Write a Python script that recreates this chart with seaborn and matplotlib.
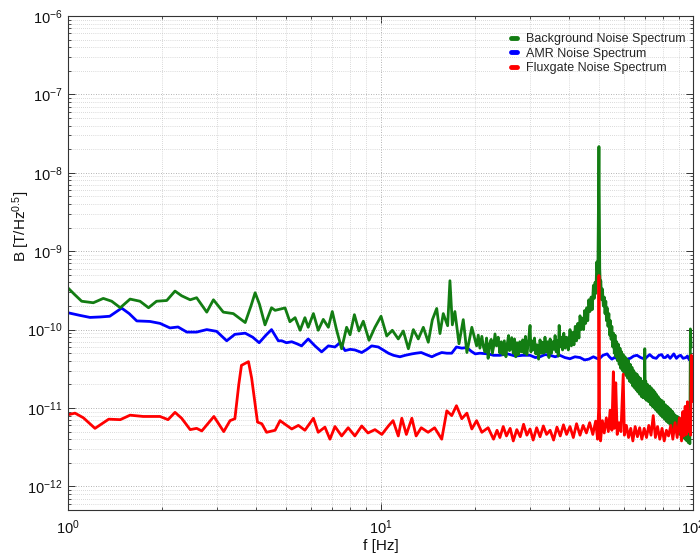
import matplotlib
matplotlib.use("Agg")
import matplotlib.pyplot as plt
import pandas as pd
import seaborn as sns
from matplotlib.lines import Line2D
from matplotlib.ticker import LogLocator, NullFormatter

# Amplitude spectral densities, (frequency in Hz, amplitude in pT/sqrt(Hz))
background_spectrum = [
    (1.00, 340), (1.05, 280), (1.106, 230), (1.205, 220), (1.297, 250), (1.38, 230),
    (1.47, 190), (1.58, 245), (1.70, 230), (1.81, 190), (1.92, 230), (2.07, 235),
    (2.20, 310), (2.31, 270), (2.46, 240), (2.58, 255), (2.78, 167), (2.92, 240),
    (3.14, 167), (3.38, 160), (3.69, 123), (3.85, 200), (3.97, 295), (4.10, 210),
    (4.27, 115), (4.48, 190), (4.60, 176), (4.71, 180), (4.95, 189), (5.13, 126),
    (5.33, 142), (5.53, 98), (5.73, 142), (5.87, 107), (6.10, 160), (6.32, 98),
    (6.56, 135), (6.81, 107), (7.01, 170), (7.24, 98), (7.51, 57), (7.79, 107),
    (7.99, 86), (8.25, 155), (8.53, 96), (8.81, 128), (9.19, 73), (9.60, 107),
    (10.04, 148), (10.47, 83), (10.91, 98), (11.40, 76), (11.83, 96), (12.28, 57),
    (12.74, 100), (13.21, 76), (13.71, 107), (14.22, 69), (14.65, 133), (15.13, 186),
    (15.5, 89), (15.88, 160), (16.4, 112), (16.68, 420), (16.98, 115), (17.3, 170),
    (17.83, 66), (18.4, 134), (18.9, 51), (19.6, 107), (20.3, 62), (20.55, 85),
    (20.8, 58), (21.1, 82), (21.35, 60), (21.6, 52), (21.85, 78), (22.1, 43),
    (22.35, 66), (22.6, 75), (22.8, 50), (23.0, 60), (23.25, 88), (23.5, 62),
    (23.8, 80), (24.1, 50), (24.35, 70), (24.6, 48), (24.9, 72), (25.2, 45),
    (25.45, 66), (25.7, 84), (25.85, 54), (26.0, 55), (26.3, 79), (26.6, 50),
    (26.85, 76), (27.1, 45), (27.35, 68), (27.6, 48), (27.9, 70), (28.2, 52),
    (28.5, 74), (28.8, 50), (29.1, 82), (29.4, 48), (29.75, 70), (30.1, 113),
    (30.3, 52), (30.5, 72), (30.8, 55), (31.1, 78), (31.4, 49), (31.7, 64),
    (32.05, 42), (32.4, 74), (32.7, 50), (33.0, 69), (33.3, 50), (33.6, 80),
    (33.95, 52), (34.3, 70), (34.6, 44), (34.9, 76), (35.25, 50), (35.6, 70),
    (35.9, 56), (36.2, 84), (36.5, 52), (36.8, 72), (37.05, 46), (37.3, 113),
    (37.6, 60), (37.9, 80), (38.25, 55), (38.6, 90), (39.0, 58), (39.4, 80),
    (39.9, 55), (40.4, 100), (40.8, 62), (41.2, 92), (41.6, 64), (42.0, 110),
    (42.4, 72), (42.8, 120), (43.15, 78), (43.5, 150), (43.9, 100), (44.3, 140),
    (44.65, 100), (45.0, 175), (45.35, 120), (45.7, 190), (46.05, 130), (46.4, 240),
    (46.8, 170), (47.2, 260), (47.6, 180), (48.0, 366), (48.3, 250), (48.6, 400),
    (48.9, 290), (49.2, 730), (49.6, 450), (50.0, 21600), (50.3, 600), (50.5, 380),
    (50.7, 420), (51.0, 240), (51.3, 330), (51.65, 200), (52.0, 260), (52.3, 160),
    (52.6, 230), (52.85, 130), (53.1, 190), (53.45, 110), (53.8, 160), (54.1, 85),
    (54.4, 130), (54.7, 75), (55.0, 110), (55.35, 60), (55.7, 90), (56.0, 50),
    (56.3, 85), (56.65, 45), (57.0, 70), (57.35, 40), (57.7, 65), (58.05, 36),
    (58.4, 58), (58.75, 32), (59.1, 52), (59.45, 30), (59.8, 48), (60.2, 28),
    (60.6, 45), (61.0, 26), (61.4, 42), (61.8, 24), (62.2, 40), (62.6, 22),
    (63.0, 36), (63.4, 21), (63.8, 33), (64.2, 19), (64.6, 30), (65.0, 18),
    (65.4, 28), (65.8, 17), (66.2, 27), (66.6, 16), (67.0, 25), (67.45, 15),
    (67.9, 24), (68.35, 14), (68.8, 22), (69.15, 13.5), (69.5, 21), (69.8, 14),
    (70.1, 57), (70.35, 13), (70.6, 22), (71.05, 12.5), (71.5, 20), (72.1, 12),
    (72.7, 19), (73.15, 11), (73.6, 18), (74.1, 10.5), (74.6, 17), (75.05, 10),
    (75.5, 16), (75.9, 9.5), (76.3, 15), (76.8, 9), (77.3, 14), (77.85, 8.5),
    (78.4, 13), (78.9, 8), (79.4, 12.5), (79.95, 7.6), (80.5, 12), (81.05, 7.2),
    (81.6, 11), (82.15, 6.8), (82.7, 10.5), (83.25, 6.5), (83.8, 10), (84.35, 6.2),
    (84.9, 9.5), (85.45, 5.8), (86.0, 9), (86.4, 5.5), (86.8, 8.5), (87.4, 5.2),
    (88.0, 8), (88.6, 5), (89.2, 7.8), (89.75, 4.8), (90.3, 7.5), (90.8, 4.6),
    (91.3, 7.2), (91.9, 4.4), (92.5, 7), (93.1, 4.2), (93.7, 6.6), (94.3, 4),
    (94.9, 6.2), (95.5, 3.8), (96.1, 5.8), (96.7, 3.6), (97.3, 5.2), (97.7, 3.5),
    (98.1, 102), (98.6, 60),
]

amr_spectrum = [
    (1.00, 164), (1.09, 152), (1.176, 143), (1.27, 145), (1.36, 148), (1.485, 188),
    (1.57, 160), (1.66, 129), (1.75, 128), (1.83, 127), (1.97, 120), (2.12, 105),
    (2.25, 108), (2.40, 93), (2.58, 93), (2.78, 100), (2.99, 95), (3.22, 72),
    (3.42, 87), (3.69, 90), (3.90, 80), (4.09, 68), (4.30, 85), (4.48, 100),
    (4.71, 72), (4.83, 72), (5.00, 68), (5.20, 70), (5.40, 66), (5.59, 62),
    (5.87, 76), (6.17, 62), (6.48, 52), (6.81, 62), (7.15, 60), (7.42, 68),
    (7.70, 54), (8.0, 56), (8.28, 55), (8.71, 51), (9.05, 56), (9.37, 62),
    (9.84, 60), (10.2, 55), (10.6, 50), (11.0, 47), (11.54, 45), (12.0, 47),
    (12.6, 49), (13.0, 50), (13.5, 51), (14.0, 48), (14.6, 45), (15.1, 48),
    (15.7, 51), (16.3, 50), (16.9, 50), (17.5, 60), (18.2, 58), (18.9, 59),
    (19.5, 53), (20.1, 49), (20.8, 50), (22.1, 49), (23.0, 47), (24.1, 47),
    (25.5, 49), (27.0, 46), (28.5, 47), (30.1, 47), (31.3, 44), (32.4, 45),
    (33.6, 48), (34.9, 47), (36.2, 45), (37.5, 47), (38.9, 44), (40.4, 42.5),
    (41.9, 45), (43.5, 44), (45.0, 41), (46.4, 42), (48.0, 45), (49.2, 43),
    (50.0, 42), (51.5, 47), (53.1, 49), (54.0, 45), (55.0, 42), (56.0, 44),
    (57.0, 43), (58.4, 45), (59.8, 41), (61.4, 42), (63.0, 43), (64.6, 46),
    (66.2, 47), (68.0, 44), (70.1, 42), (71.3, 45), (72.7, 48), (74.5, 44),
    (76.3, 43), (77.8, 47), (79.4, 48), (80.5, 44), (81.6, 44), (83.0, 47),
    (84.5, 43), (86.8, 49), (88.5, 43), (90.0, 46), (91.3, 47), (93.0, 43),
    (94.9, 44), (96.0, 46), (97.3, 41), (98.6, 40),
]

fluxgate_spectrum = [
    (1.00, 8.2), (1.053, 8.6), (1.12, 7.5), (1.22, 5.5), (1.35, 7.2), (1.47, 7.1),
    (1.58, 8.1), (1.74, 7.8), (1.97, 7.8), (2.09, 7.1), (2.20, 8.8), (2.31, 7.4),
    (2.46, 5.3), (2.58, 5.5), (2.68, 5.1), (2.93, 7.8), (3.15, 5.0), (3.30, 6.9),
    (3.42, 7.3), (3.52, 20), (3.59, 35), (3.78, 39), (3.87, 24), (4.04, 6.6),
    (4.17, 6.3), (4.32, 4.9), (4.60, 5.2), (4.77, 6.9), (4.95, 6.2), (5.20, 5.4),
    (5.46, 6.0), (5.73, 5.2), (6.10, 7.4), (6.32, 4.9), (6.64, 5.7), (6.89, 4.0),
    (7.15, 5.8), (7.51, 4.4), (7.88, 5.6), (8.28, 4.4), (8.71, 5.9), (9.12, 4.8),
    (9.6, 5.3), (10.1, 4.6), (10.6, 5.9), (10.97, 6.9), (11.4, 4.4), (11.7, 7.4),
    (12.1, 4.6), (12.6, 7.4), (13.0, 4.4), (13.5, 5.6), (14.2, 4.9), (14.9, 5.6),
    (15.7, 4.0), (16.3, 9.2), (16.9, 8.0), (17.5, 10.7), (18.2, 7.3), (18.9, 8.6),
    (19.6, 5.4), (20.3, 6.9), (21.1, 4.9), (22.1, 5.6), (23.0, 4.0), (23.6, 5.2),
    (24.1, 4.2), (24.7, 5.8), (25.3, 4.4), (26.0, 5.5), (26.6, 3.8), (27.3, 5.3),
    (28.0, 4.3), (28.7, 6.2), (29.4, 4.5), (30.1, 5.4), (30.8, 3.9), (31.6, 5.6),
    (32.4, 4.3), (33.2, 5.9), (34.0, 4.6), (34.9, 5.2), (35.8, 3.9), (36.7, 5.7),
    (37.6, 4.4), (38.5, 6.1), (39.4, 4.6), (40.4, 5.8), (41.4, 4.2), (42.4, 6.3),
    (43.5, 4.5), (44.5, 6.0), (45.6, 4.8), (46.7, 6.5), (47.8, 4.6), (48.8, 6.8),
    (49.5, 4.0), (49.9, 10), (50.0, 490), (50.2, 9), (50.6, 3.8), (51.3, 6.9),
    (52.0, 4.8), (52.8, 7.5), (53.6, 5.0), (54.3, 9.4), (55.0, 5.2), (55.6, 29),
    (56.0, 5.5), (56.6, 21), (57.2, 4.6), (58.0, 6.5), (58.8, 5.0), (59.8, 27),
    (60.3, 4.5), (61.2, 6.0), (62.2, 4.2), (63.2, 5.5), (64.2, 3.8), (65.3, 5.8),
    (66.4, 4.3), (67.5, 5.6), (68.6, 4.0), (69.8, 5.5), (71.0, 4.2), (72.2, 6.0),
    (73.4, 4.5), (74.6, 8.0), (75.8, 4.2), (77.0, 5.8), (78.3, 4.0), (79.6, 5.5),
    (80.9, 3.8), (82.2, 5.2), (83.5, 4.4), (84.9, 6.0), (86.2, 4.0), (87.6, 6.5),
    (89.0, 4.2), (90.5, 7.5), (91.9, 3.8), (92.8, 9.0), (93.5, 4.4), (94.4, 10.5),
    (95.2, 4.6), (96.0, 12), (96.8, 5.0), (97.5, 9.0), (98.2, 4.5), (98.8, 47),
    (99.0, 12),
]

series_labels = ["Background Noise Spectrum", "AMR Noise Spectrum", "Fluxgate Noise Spectrum"]
series_colors = ["#137d13", "#0000ff", "#ff0000"]

frames = []
for label, spectrum in zip(series_labels,
                           [background_spectrum, amr_spectrum, fluxgate_spectrum]):
    df = pd.DataFrame(spectrum, columns=["f", "amp_pT"])
    df["B"] = df["amp_pT"] * 1e-12  # pT/sqrt(Hz) -> T/sqrt(Hz)
    df["spectrum"] = label
    frames.append(df)
data = pd.concat(frames, ignore_index=True)

sns.set_theme(style="ticks")
plt.rcParams["font.family"] = ["Liberation Sans", "DejaVu Sans"]
plt.rcParams["mathtext.fontset"] = "custom"
plt.rcParams["mathtext.rm"] = "Liberation Sans"
plt.rcParams["mathtext.it"] = "Liberation Sans:italic"
plt.rcParams["mathtext.default"] = "regular"

fig = plt.figure(figsize=(7, 5.55), dpi=100)
ax = fig.add_axes([68 / 700, 45 / 555, 625 / 700, 494 / 555])
ax.set_xscale("log")
ax.set_yscale("log")

palette = dict(zip(series_labels, series_colors))
# AMR drawn first, background above it, fluxgate on top
draw_order = [series_labels[1], series_labels[0], series_labels[2]]
sns.lineplot(data=data, x="f", y="B", hue="spectrum", hue_order=draw_order,
             palette=palette, estimator=None, sort=False, linewidth=2.0,
             legend=False, ax=ax)

ax.set_xlim(1, 100)
ax.set_ylim(5e-13, 1e-6)

ax.xaxis.set_major_locator(LogLocator(base=10, numticks=20))
ax.xaxis.set_minor_locator(LogLocator(base=10, subs=range(2, 10), numticks=20))
ax.yaxis.set_major_locator(LogLocator(base=10, numticks=20))
ax.yaxis.set_minor_locator(LogLocator(base=10, subs=range(2, 10), numticks=20))
ax.xaxis.set_minor_formatter(NullFormatter())
ax.yaxis.set_minor_formatter(NullFormatter())
ax.xaxis.offsetText.set_visible(False)
ax.yaxis.offsetText.set_visible(False)

ax.grid(True, which="major", linestyle=(0, (1, 2)), color="#9a9a9a", linewidth=0.6)
ax.grid(True, which="minor", linestyle=(0, (1, 2)), color="#b8b8b8", linewidth=0.5)
ax.set_axisbelow(True)

ax.tick_params(which="both", direction="in", top=True, right=True,
               colors="#333333", labelcolor="#111111")
ax.tick_params(which="major", length=5, width=0.7, labelsize=10.5)
ax.tick_params(which="minor", length=2.5, width=0.6)
ax.tick_params(axis="x", which="major", pad=6)
ax.tick_params(axis="y", which="major", pad=4)
for spine in ax.spines.values():
    spine.set_color("#333333")
    spine.set_linewidth(0.8)

ax.set_xlabel("f [Hz]", fontsize=11, color="#111111")
ax.set_ylabel("B [T/Hz$^{0.5}$]", fontsize=11, color="#111111")
ax.xaxis.set_label_coords(0.5, -0.058)
ax.yaxis.set_label_coords(-0.058, 0.575)

handles = [Line2D([0], [0], color=c, linewidth=3.5) for c in series_colors]
ax.legend(handles, series_labels, loc="upper left", bbox_to_anchor=(0.708, 0.965),
          frameon=False, fontsize=9, handlelength=0.55, handletextpad=0.7,
          labelspacing=0.2, borderpad=0, borderaxespad=0)

fig.savefig("out.png", dpi=100)
